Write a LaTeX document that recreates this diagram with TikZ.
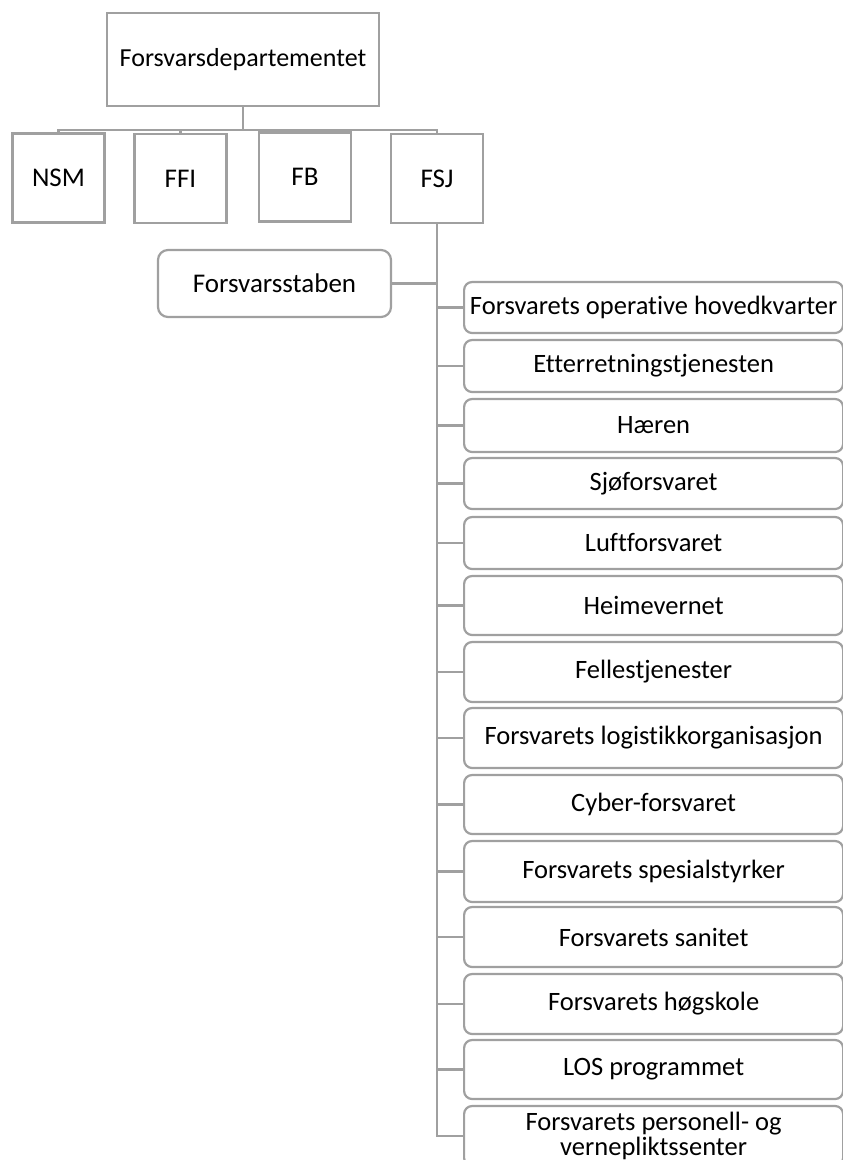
\documentclass[tikz,border=0pt]{standalone}
\usepackage{fontspec}
\setmainfont[Ligatures=NoCommon]{Carlito}
\definecolor{lc}{RGB}{160,160,160}
\begin{document}
\begin{tikzpicture}[x=1pt,y=-1pt,
  box/.style={draw=lc, line width=2.2pt, inner sep=0pt, text=black,
    font=\fontsize{26.5}{25}\selectfont},
  sbox/.style={box, minimum width=92pt, minimum height=89pt, font=\fontsize{27}{27}\selectfont},
  rbox/.style={box, rounded corners=8pt, minimum width=379pt, anchor=west, align=center},
  conn/.style={draw=lc, line width=2.2pt}]
\useasboundingbox (0,0) rectangle (843,1160);
\clip (0,0) rectangle (843,1160);
% top level
\node[box, minimum width=272pt, minimum height=93pt, font=\fontsize{26}{26}\selectfont] (fd) at (243,59.5) {Forsvarsdepartementet};
\node[sbox] (nsm) at (58.5,178) {NSM};
\node[sbox] (ffi) at (180.5,178.5) {FFI};
\node[sbox] (fb) at (305,177) {FB};
\node[sbox] (fsj) at (437,178.5) {FSJ};
\node[box, rounded corners=10pt, minimum width=233pt, minimum height=67pt, font=\fontsize{27}{27}\selectfont] (fst) at (274.5,283.5) {Forsvarsstaben};
% right column
\node[rbox, minimum height=51pt] (b1) at (463,307.5) {Forsvarets operative hovedkvarter};
\node[rbox, minimum height=52pt] (b2) at (463,366) {Etterretningstjenesten};
\node[rbox, minimum height=53pt] (b3) at (463,425.5) {Hæren};
\node[rbox, minimum height=51pt] (b4) at (463,483.5) {Sjøforsvaret};
\node[rbox, minimum height=52pt] (b5) at (463,543) {Luftforsvaret};
\node[rbox, minimum height=59pt] (b6) at (463,605.5) {Heimevernet};
\node[rbox, minimum height=60pt] (b7) at (463,672) {Fellestjenester};
\node[rbox, minimum height=60pt] (b8) at (463,738) {Forsvarets logistikkorganisasjon};
\node[rbox, minimum height=59pt] (b9) at (463,804.5) {Cyber-forsvaret};
\node[rbox, minimum height=61pt] (b10) at (463,871.5) {Forsvarets spesialstyrker};
\node[rbox, minimum height=60pt] (b11) at (463,937) {Forsvarets sanitet};
\node[rbox, minimum height=60pt] (b12) at (463,1004) {Forsvarets høgskole};
\node[rbox, minimum height=59pt] (b13) at (463,1069.5) {LOS programmet};
\node[rbox, minimum height=60pt] (b14) at (463,1136) {Forsvarets personell- og\\vernepliktssenter};
% connectors top
\coordinate (j) at (243,130);
\draw[conn] (fd.south) -- (j);
\draw[conn] (nsm.north) -- (nsm.north |- j) -| (fsj.north);
\draw[conn] (ffi.north) -- (ffi.north |- j);
\draw[conn] (fb.north) -- (fb.north |- j);
% FSJ spine
\draw[conn] (fst.east) -- (fst.east -| fsj.south);
\foreach \b in {b1,b2,b3,b4,b5,b6,b7,b8,b9,b10,b11,b12,b13,b14}
  \draw[conn] (fsj.south) |- (\b.west);
\end{tikzpicture}
\end{document}
